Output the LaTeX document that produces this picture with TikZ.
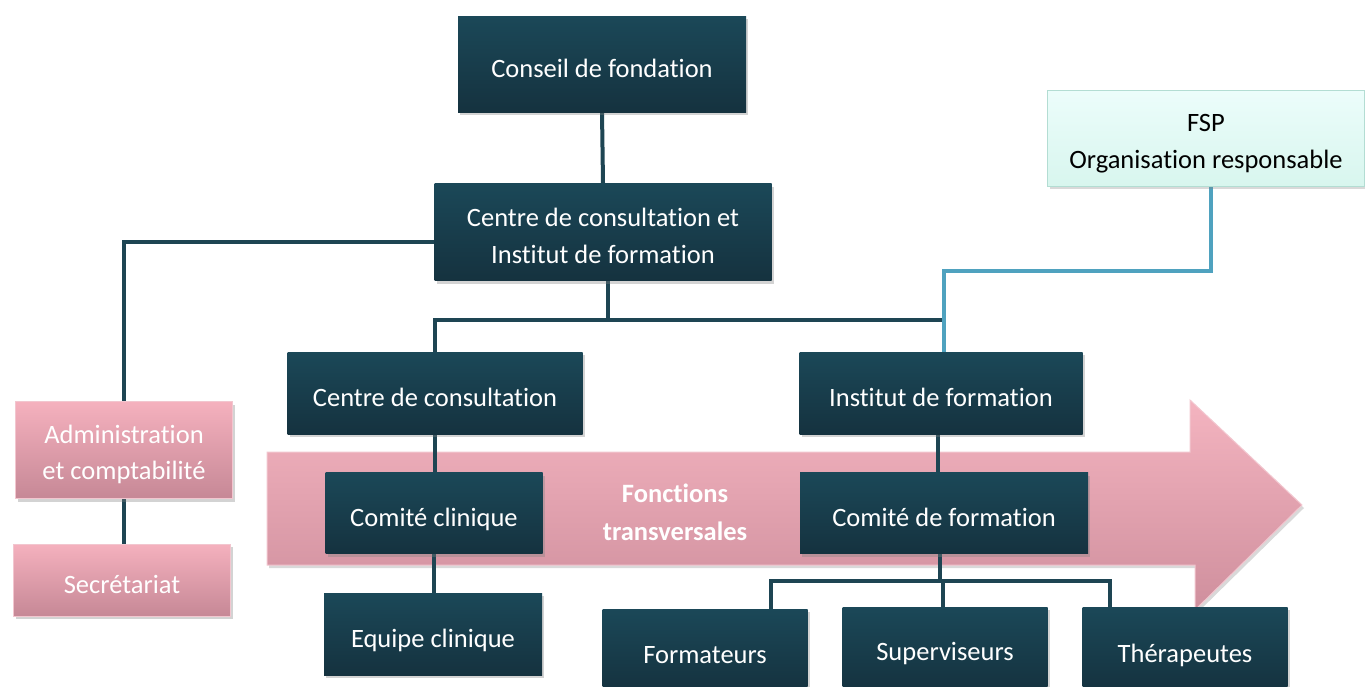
\documentclass[tikz,border=0pt]{standalone}
\usepackage{fontspec}
\setmainfont{Carlito}[Ligatures=NoCommon]
\usetikzlibrary{shadows}
\definecolor{dtop}{HTML}{1B4858}
\definecolor{dbot}{HTML}{15323F}
\definecolor{ptop}{HTML}{F5B1BE}
\definecolor{pbot}{HTML}{C68896}
\definecolor{pline}{HTML}{F2C6CF}
\definecolor{atop}{HTML}{F4B4C0}
\definecolor{abot}{HTML}{CF8F9D}
\definecolor{ftop}{HTML}{ECFDFB}
\definecolor{fbot}{HTML}{D8F6EE}
\definecolor{fline}{HTML}{B3DDD3}
\definecolor{conncol}{HTML}{1E4553}
\definecolor{fspcol}{HTML}{4FA2BF}
\pgfdeclarelayer{arrowlayer}
\pgfdeclarelayer{connlayer}
\pgfsetlayers{arrowlayer,connlayer,main}
\tikzset{
  dbox/.style={draw=none, top color=dtop, bottom color=dbot, text=white,
    font=\fontsize{26.5}{37}\selectfont, align=center, inner sep=0pt,
    drop shadow={shadow xshift=2pt, shadow yshift=-3pt, opacity=0.35}},
  oneline/.style={text height=30pt, text depth=4pt},
  pbox/.style={draw=pline, line width=1pt, top color=ptop, bottom color=pbot, text=white,
    font=\fontsize{26.5}{36}\selectfont, align=center, inner sep=0pt,
    drop shadow={shadow xshift=2pt, shadow yshift=-3pt, opacity=0.35}},
  fbox/.style={draw=fline, line width=1pt, top color=ftop, bottom color=fbot, text=black,
    font=\fontsize{26.5}{37}\selectfont, align=center, inner sep=0pt,
    drop shadow={shadow xshift=2pt, shadow yshift=-3pt, opacity=0.3}},
  conn/.style={draw=conncol, line width=4pt},
  fspconn/.style={draw=fspcol, line width=4pt},
}
\begin{document}
\begin{tikzpicture}[x=1pt,y=-1pt]
\useasboundingbox (0,0) rectangle (1365,686);
% big arrow
\begin{pgfonlayer}{arrowlayer}
\path[draw=pline, line width=1pt, top color=atop, bottom color=abot,
  drop shadow={shadow xshift=2pt, shadow yshift=-3pt, opacity=0.3}]
  (267,452) -- (1190,452) -- (1190,400) -- (1302,505) -- (1195,610) -- (1195,565) -- (267,565) -- cycle;
\node[text=white, font=\fontsize{26.5}{38}\selectfont\bfseries, align=center, inner sep=0pt, text height=60pt, text depth=4pt] (fct) at (675,512) {Fonctions\\transversales};
\end{pgfonlayer}

% nodes
\node[dbox, oneline, minimum width=288pt, minimum height=96pt] (conseil) at (602,64) {Conseil de fondation};
\node[dbox, text height=66pt, text depth=4pt, minimum width=337pt, minimum height=97pt] (ccif) at (603,232) {Centre de consultation et\\Institut de formation};
\node[fbox, text height=64pt, text depth=4pt, minimum width=317pt, minimum height=96pt] (fsp) at (1206,138) {FSP\\Organisation responsable};
\node[dbox, oneline, minimum width=295pt, minimum height=82pt] (cc) at (435,393) {Centre de consultation};
\node[dbox, oneline, minimum width=283pt, minimum height=82pt] (if) at (941,393) {Institut de formation};
\node[pbox, text height=62pt, text depth=4pt, minimum width=217pt, minimum height=97pt] (admin) at (124,450) {Administration\\et comptabilité};
\node[pbox, oneline, minimum width=217pt, minimum height=72pt] (secr) at (122,580) {Secrétariat};
\node[dbox, oneline, minimum width=217pt, minimum height=81pt] (cclin) at (434,513) {Comité clinique};
\node[dbox, oneline, minimum width=288pt, minimum height=81pt] (cdf) at (944,513) {Comité de formation};
\node[dbox, oneline, minimum width=218pt, minimum height=82pt] (equipe) at (433,634) {Equipe clinique};
\node[dbox, oneline, minimum width=205pt, minimum height=82pt] (form) at (705,650) {Formateurs};
\node[dbox, text height=28pt, text depth=6pt, minimum width=205pt, minimum height=84pt] (sup) at (945,649) {Superviseurs};
\node[dbox, oneline, minimum width=205pt, minimum height=84pt] (ther) at (1185,649) {Thérapeutes};

% connectors (behind boxes, above arrow)
\begin{pgfonlayer}{connlayer}
\draw[conn] (conseil.south) -- (ccif.north);
\draw[conn] ([yshift=-10pt]ccif.west) -| (admin.north);
\draw[conn] (admin.south) -- (admin.south |- secr.north);
\draw[conn] ([xshift=5pt]ccif.south) -- ++(0,39) coordinate (busl) -| (cc.north);
\draw[conn] (busl) -| ([xshift=3pt]if.north);
\draw[fspconn] ([xshift=5pt]fsp.south) -- ++(0,84) -| ([xshift=3pt]if.north);
\draw[conn] (cc.south) -- (cc.south |- cclin.north);
\draw[conn] (cclin.south) -- (cclin.south |- equipe.north);
\draw[conn] ([xshift=-3pt]if.south) -- ([xshift=-3pt]if.south |- cdf.north);
\draw[conn] ([xshift=-4pt]cdf.south) -- ++(0,27) coordinate (busr) -| ([xshift=66pt]form.north);
\draw[conn] (busr) -| ([xshift=-2pt]sup.north);
\draw[conn] (busr) -| ([xshift=-75pt]ther.north);
\end{pgfonlayer}
\end{tikzpicture}
\end{document}
